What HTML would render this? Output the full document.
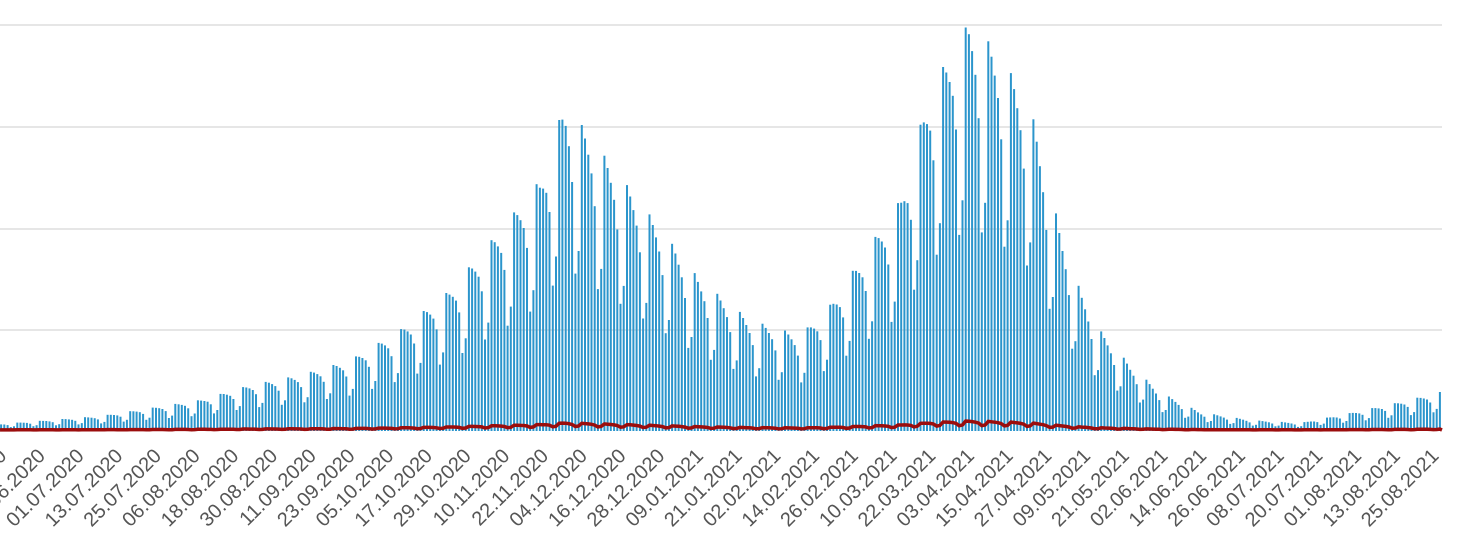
<!DOCTYPE html>
<html><head><meta charset="utf-8"><style>
html,body{margin:0;padding:0;background:#fff;width:1470px;height:551px;overflow:hidden}
svg text{font-family:"Liberation Sans",sans-serif;font-size:20px;fill:#555}
</style></head><body>
<svg id="c" width="1470" height="551" xmlns="http://www.w3.org/2000/svg">
<g stroke="#e6e6e6" stroke-width="2">
<line x1="0" x2="1442" y1="25" y2="25"/><line x1="0" x2="1442" y1="127" y2="127"/>
<line x1="0" x2="1442" y1="229" y2="229"/><line x1="0" x2="1442" y1="330" y2="330"/>
</g>
<g id="bars" fill="#2b95cc"></g>
<path id="red" fill="none" stroke="#9b0d0d" stroke-width="3.5"/>
<g id="labels"></g>
</svg>
<script>
var env=[[0,424],[100,416],[200,400],[250,385],[300,375],[350,360],[400,330],[450,290],[500,230],[540,180],[565,102],[600,150],[650,215],[700,280],[750,320],[800,335],[830,305],[860,260],[900,200],[930,90],[970,20],[1000,55],[1030,105],[1060,230],[1080,290],[1100,330],[1130,365],[1160,392],[1200,412],[1250,420],[1300,423],[1350,413],[1400,402],[1440,392]];
function ev(x){for(var i=0;i<env.length-1;i++){if(x<=env[i+1][0]){var a=env[i],b=env[i+1],t=(x-a[0])/(b[0]-a[0]);return a[1]+t*(b[1]-a[1]);}}return env[env.length-1][1];}
var pat=[1,0.97,0.93,0.88,0.78,0.5,0.58];
var d=3.226,x0=85,s="",p="";
var startDay=-Math.floor(x0/d);
for(var k=startDay;;k++){var x=x0+k*d; if(x>1442)break; if(x<-2)continue;
 var h=(431-ev(x))*pat[((k%7)+7)%7]; if(h<3)h=3;
 s+='<rect x="'+(x-1).toFixed(1)+'" y="'+(431-h).toFixed(1)+'" width="2" height="'+h.toFixed(1)+'"/>';
 var r=h*0.022; p+='L'+x.toFixed(1)+','+(430-r).toFixed(1);}
document.getElementById('bars').innerHTML=s;
document.getElementById('red').setAttribute('d','M0,430'+p+'L1442,430');
var base=Date.UTC(2020,6,1),lab="";
for(var j=-2;;j++){var x=x0+j*12*d; if(x>1445)break; var dt=new Date(base+j*12*86400000);
 var t=('0'+dt.getUTCDate()).slice(-2)+'.'+('0'+(dt.getUTCMonth()+1)).slice(-2)+'.'+dt.getUTCFullYear();
 lab+='<text text-anchor="end" transform="translate('+(x).toFixed(1)+',457) rotate(-45)">'+t+'</text>';}
document.getElementById('labels').innerHTML=lab;
</script>
</body></html>
